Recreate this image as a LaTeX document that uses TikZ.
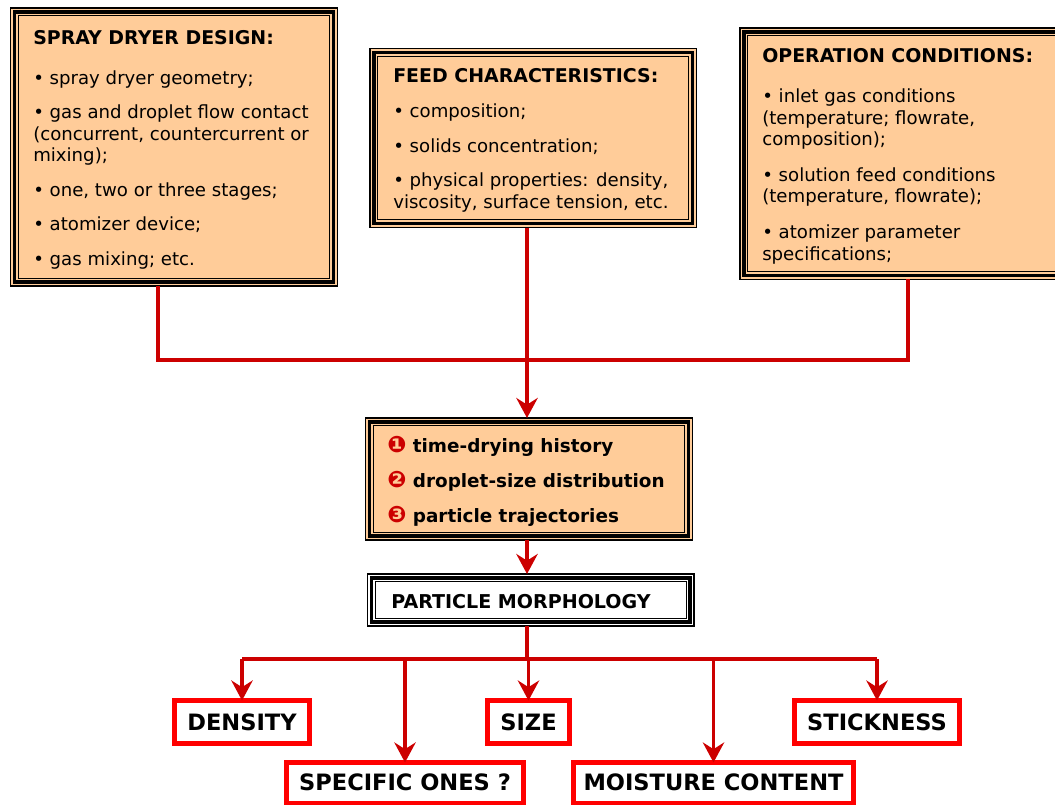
\documentclass[tikz,border=0pt]{standalone}
\usepackage{fontspec}
\setmainfont{DejaVu Sans}
\usetikzlibrary{arrows.meta}
\definecolor{peach}{RGB}{255,204,153}
\definecolor{linkred}{RGB}{204,0,0}
\definecolor{boxred}{RGB}{255,0,0}
% thick and thin inner lines of a triple-ruled frame
\newcommand\innerframes[1]{%
  \draw[line width=2.5pt] ([shift={(4,4)}]#1.north west) rectangle ([shift={(-4,-4)}]#1.south east);
  \draw[line width=1pt] ([shift={(7.8,7.8)}]#1.north west) rectangle ([shift={(-7.8,-7.8)}]#1.south east);}
\newcommand\titlefont{\fontsize{14.2}{16}\selectfont\bfseries}
\newcommand\numdot[1]{\textcolor{linkred}{\fontsize{17}{17}\selectfont #1}}
\begin{document}
\begin{tikzpicture}[x=0.75pt,y=-0.75pt,
  framebox/.style={draw=black, line width=1.3pt, inner sep=0pt, outer sep=0pt},
  peachbox/.style={framebox, fill=peach},
  whitebox/.style={framebox, fill=white},
  redbox/.style={draw=boxred, line width=3.6pt, fill=white, inner sep=0pt, outer sep=0pt,
    minimum height=32.25pt, font=\fontsize{16.9}{20}\selectfont\bfseries},
  body/.style={anchor=north west, inner sep=0pt, align=left, font=\fontsize{13.6}{16}\selectfont},
  link/.style={draw=linkred, line width=2.9pt, line join=miter},
  arrow/.style={link, -{Stealth[length=15pt,width=16pt,inset=5pt]}},
]
\useasboundingbox (0,0) rectangle (1055,806);

% input boxes
\node[peachbox, minimum width=245.25pt, minimum height=208.5pt] (design) at (174,147) {};
\node[peachbox, minimum width=244.9pt, minimum height=134.25pt] (feed) at (533.25,138) {};
\node[peachbox, minimum width=247.5pt, minimum height=188.6pt] (oper) at (905,153.75) {};
\node[peachbox, minimum width=245.25pt, minimum height=91.5pt] (hist) at (529,479) {};
\node[whitebox, minimum width=244.9pt, minimum height=39pt] (morph) at (530.75,600) {};
\innerframes{design}
\innerframes{feed}
\innerframes{oper}
\innerframes{hist}
\innerframes{morph}

\node[body] (designtext) at (33,30) {{\titlefont SPRAY DRYER DESIGN:}\\[14pt]
• spray dryer geometry;\\[10pt]
• gas and droplet flow contact\\
(concurrent, countercurrent or\\
mixing);\\[10pt]
• one, two or three stages;\\[10pt]
• atomizer device;\\[10pt]
• gas mixing; etc.};

\node[body] (feedtext) at (393,68.5) {{\titlefont FEED CHARACTERISTICS:}\\[10pt]
• composition;\\[10pt]
• solids concentration;\\[10pt]
• physical properties: density,\\
viscosity, surface tension, etc.};

\node[body] (opertext) at (762,48.5) {{\titlefont OPERATION CONDITIONS:}\\[14pt]
• inlet gas conditions\\
(temperature; flowrate,\\
composition);\\[11pt]
• solution feed conditions\\
(temperature, flowrate);\\[11pt]
• atomizer parameter\\
specifications;};

\node[body, font=\fontsize{13.8}{26.25}\selectfont\bfseries] (histtext) at (387,436)
{\numdot{❶} time-drying history\\
\numdot{❷} droplet-size distribution\\
\numdot{❸} particle trajectories};

\node[anchor=base west, inner sep=0pt, font=\fontsize{14.3}{17}\selectfont\bfseries] (morphtext) at (391,608) {PARTICLE MORPHOLOGY};

% property boxes
\node[redbox, minimum width=101.25pt] (density) at (242,722) {DENSITY};
\node[redbox, minimum width=61.5pt] (size) at (528.5,722) {SIZE};
\node[redbox, minimum width=123.75pt] (stick) at (877,722) {STICKNESS};
\node[redbox, minimum width=177.75pt, minimum height=30.4pt] (specific) at (405,782.75) {SPECIFIC ONES ?};
\node[redbox, minimum width=210pt, minimum height=30.4pt] (moist) at (713.5,782.75) {MOISTURE CONTENT};

% collecting connectors
\coordinate (jl) at (158,360);
\coordinate (jr) at (908,360);
\coordinate (jc) at (527,360);
\draw[link] (design.south -| jl) -- (jl) -- (jr) -- (oper.south -| jr);
\draw[arrow] (feed.south -| jc) -- (hist.north -| jc);
\draw[arrow] (hist.south -| jc) -- (morph.north -| jc);

% distributing connectors
\coordinate (bus) at (527,659);
\draw[link] (morph.south -| bus) -- (bus);
\draw[link] (bus -| density.north) -- (bus -| stick.north);
\draw[arrow] (bus -| density.north) -- (density.north);
\draw[arrow] (bus -| specific.north) -- (specific.north);
\draw[arrow] (bus -| size.north) -- (size.north);
\draw[arrow] (bus -| moist.north) -- (moist.north);
\draw[arrow] (bus -| stick.north) -- (stick.north);
\end{tikzpicture}
\end{document}
